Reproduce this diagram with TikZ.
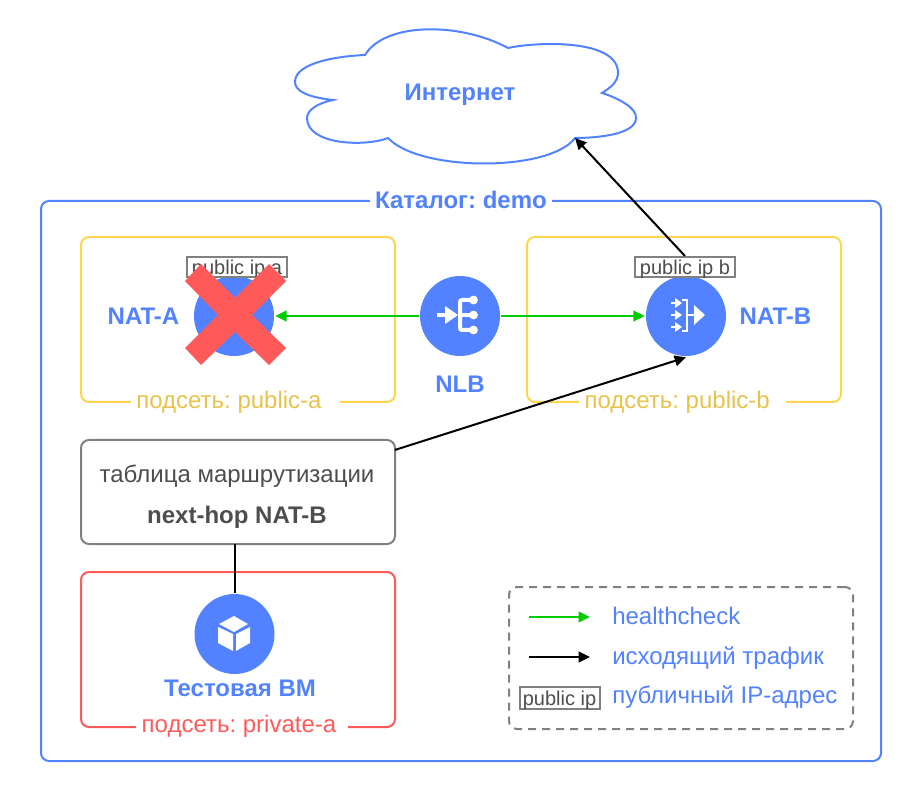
\documentclass[tikz,border=0pt]{standalone}
\usepackage{fontspec}
\setmainfont{Liberation Sans}
\usepackage{xcolor}
\usetikzlibrary{arrows.meta}
\definecolor{natblue}{HTML}{5282FF}
\definecolor{netyellow}{HTML}{FFD54F}
\definecolor{labelyellow}{HTML}{E6C34A}
\definecolor{netred}{HTML}{FF5A5A}
\definecolor{txtgray}{HTML}{4D4D4D}
\definecolor{boxgray}{HTML}{808080}
\definecolor{checkgreen}{HTML}{00CC00}
\frenchspacing

\begin{document}
\begin{tikzpicture}[x=0.75pt,y=-0.75pt]

\tikzset{frame/.style = {shape=rectangle,draw,line width=1.5pt,rounded corners=6pt,outer sep=0pt}}
\tikzset{subnet/.style = {frame,minimum width=235.5pt,minimum height=123.75pt,draw=netyellow}}
\tikzset{vertex/.style = {shape=circle,fill=natblue,draw=none,minimum size=60pt,inner sep=0pt,outer sep=1pt}}
\tikzset{txt/.style = {anchor=base,inner sep=0pt,font=\fontsize{18}{21}\selectfont}}
\tikzset{title/.style = {txt,text=natblue,font=\fontsize{18}{21}\selectfont\bfseries}}
\tikzset{netlabel/.style = {txt,fill=white,inner xsep=4pt,inner ysep=1pt}}
\tikzset{legendtxt/.style = {txt,anchor=base west,text=natblue}}
\tikzset{ipbox/.style = {shape=rectangle,draw=boxgray,line width=1.5pt,fill=white,text=txtgray,inner sep=0pt,minimum width=75pt,minimum height=15pt,font=\fontsize{15}{18}\selectfont,text height=12.5pt,text depth=1pt}}
\tikzset{icon/.style = {white,line width=3pt}}
\tikzset{iconfill/.style = {fill=white,draw=none}}
\tikzset{edge/.style = {-{Triangle[length=8.5pt,width=8pt]},line width=1.5pt}}
\tikzset{check/.style = {edge,draw=checkgreen,fill=checkgreen}}
\tikzset{route/.style = {edge,draw=black,fill=black}}

\useasboundingbox (0,0) rectangle (922,802);

%cloud
\draw[natblue,line width=1.5pt] (365,55) .. controls (385,22) and (460,22) .. (508,48)
  .. controls (535,42) and (618,38) .. (618,73) .. controls (618,82) and (610,88) .. (602,93)
  .. controls (618,98) and (637,108) .. (636,118) .. controls (636,135) and (595,138) .. (575,138)
  .. controls (550,172) and (420,172) .. (388,138) .. controls (365,147) and (307,145) .. (307,118)
  .. controls (307,110) and (318,103) .. (333,100) .. controls (305,97) and (295,90) .. (295,82)
  .. controls (295,62) and (340,56) .. (365,55) -- cycle;
\coordinate (cloudtip) at (575,138);
\node[title] (inet) at (460,100.5) {Интернет};

%frames
\node[frame,draw=natblue,minimum width=630pt,minimum height=420pt] (demo) at (461,481) {};
\node[subnet] (puba) at (238,319.5) {};
\node[subnet] (pubb) at (684,319.5) {};
\node[frame,draw=netred,minimum width=235.5pt,minimum height=116.25pt] (priv) at (238,649.5) {};
\node[frame,draw=boxgray,minimum width=235.5pt,minimum height=78pt] (rt) at (238,492) {};
\node[txt,text=txtgray] (rttop) at (237,483) {таблица маршрутизации};
\node[txt,text=txtgray,font=\fontsize{18}{21}\selectfont\bfseries] (rtbottom) at (237,523) {next-hop NAT-B};
\node[frame,draw=boxgray,dash pattern=on 6pt off 4.5pt,minimum width=258pt,minimum height=106.5pt] (legend) at (681,658) {};

%frame labels
\node[netlabel,font=\fontsize{18}{21}\selectfont\bfseries,text=natblue] (demolabel) at (461,209) {Каталог: demo};
\node[netlabel,text=labelyellow] (pubalabel) at (235.5,408.5) {подсеть: public-a\hspace*{9.75pt}};
\node[netlabel,text=labelyellow] (pubblabel) at (682.5,408.5) {подсеть: public-b\hspace*{8pt}};
\node[netlabel,text=netred] (privlabel) at (242,732) {подсеть: private-a\hspace*{4.5pt}};

%circles
\node[vertex] (nata) at (234,316) {};
\node[vertex] (natb) at (686,316) {};
\node[vertex] (nlb) at (460,316) {};
\node[vertex] (vm) at (234.5,634) {};
\node[ipbox] (ipa) at (237,267) {public ip a};
\node[ipbox] (ipb) at (685,267) {public ip b};
\node[title] (natalabel) at (143.5,325) {NAT-A};
\node[title] (natblabel) at (775.5,325) {NAT-B};
\node[title] (nlblabel) at (460,393) {NLB};
\node[title] (vmlabel) at (240,696) {Тестовая ВМ};

%icons
\draw[icon] (437,315) -- (447,315);
\fill[iconfill] (445,306) -- (458,315) -- (445,324) -- cycle;
\draw[icon,rounded corners=1.5pt] (473,300) -- (460,300) -- (460,330) -- (473,330);
\draw[icon] (460,315) -- (473,315);
\foreach \y in {300,315,330}
  \fill[iconfill] (473.5,\y) circle (3.3pt);
\foreach \y in {303,315,327} {
  \draw[white,line width=1.8pt] (671,\y) -- (677,\y);
  \fill[iconfill] (675,\y-5) -- (682,\y) -- (675,\y+5) -- cycle;
}
\draw[white,line width=1.5pt] (682,300) -- (687,300) -- (687,331) -- (682,331);
\draw[icon,line width=2.2pt] (688,315) -- (697,315);
\fill[iconfill] (694,305) -- (705,315) -- (694,325) -- cycle;
\fill[iconfill] (234,616) -- (248,624) -- (234,632) -- (219,624) -- cycle;
\fill[iconfill] (218,627) -- (233,634) -- (233,651) -- (218,643) -- cycle;
\fill[iconfill] (236,634) -- (250,627) -- (250,643) -- (236,651) -- cycle;

%edges
\draw[check] (nlb) to (nata);
\draw[check] (nlb) to (natb);
\draw[route] (ipb.north) to (cloudtip);
\draw[route] (rt.15) to (natb.south);
\draw[line width=1.5pt] (vm.north |- rt.south) to (vm.north);

%cross
\fill[netred] (185,281) -- (201,264) -- (235,298) -- (269,264) -- (286,281) -- (252,315)
  -- (286,348) -- (269,365) -- (235,332) -- (201,365) -- (185,348) -- (218,315) -- cycle;

%legend
\coordinate (checka) at (529,617);
\coordinate (checkb) at (590,617);
\coordinate (routea) at (529,657);
\coordinate (routeb) at (590,657);
\draw[check] (checka) to (checkb);
\draw[route] (routea) to (routeb);
\node[ipbox,minimum width=60pt,minimum height=16pt] (iplegend) at (559.5,698) {public ip};
\node[legendtxt] (healthtxt) at (612,624) {healthcheck};
\node[legendtxt] (traffictxt) at (612,664) {исходящий трафик};
\node[legendtxt] (iptxt) at (612,703.5) {публичный IP-адрес};
\end{tikzpicture}
\end{document}
